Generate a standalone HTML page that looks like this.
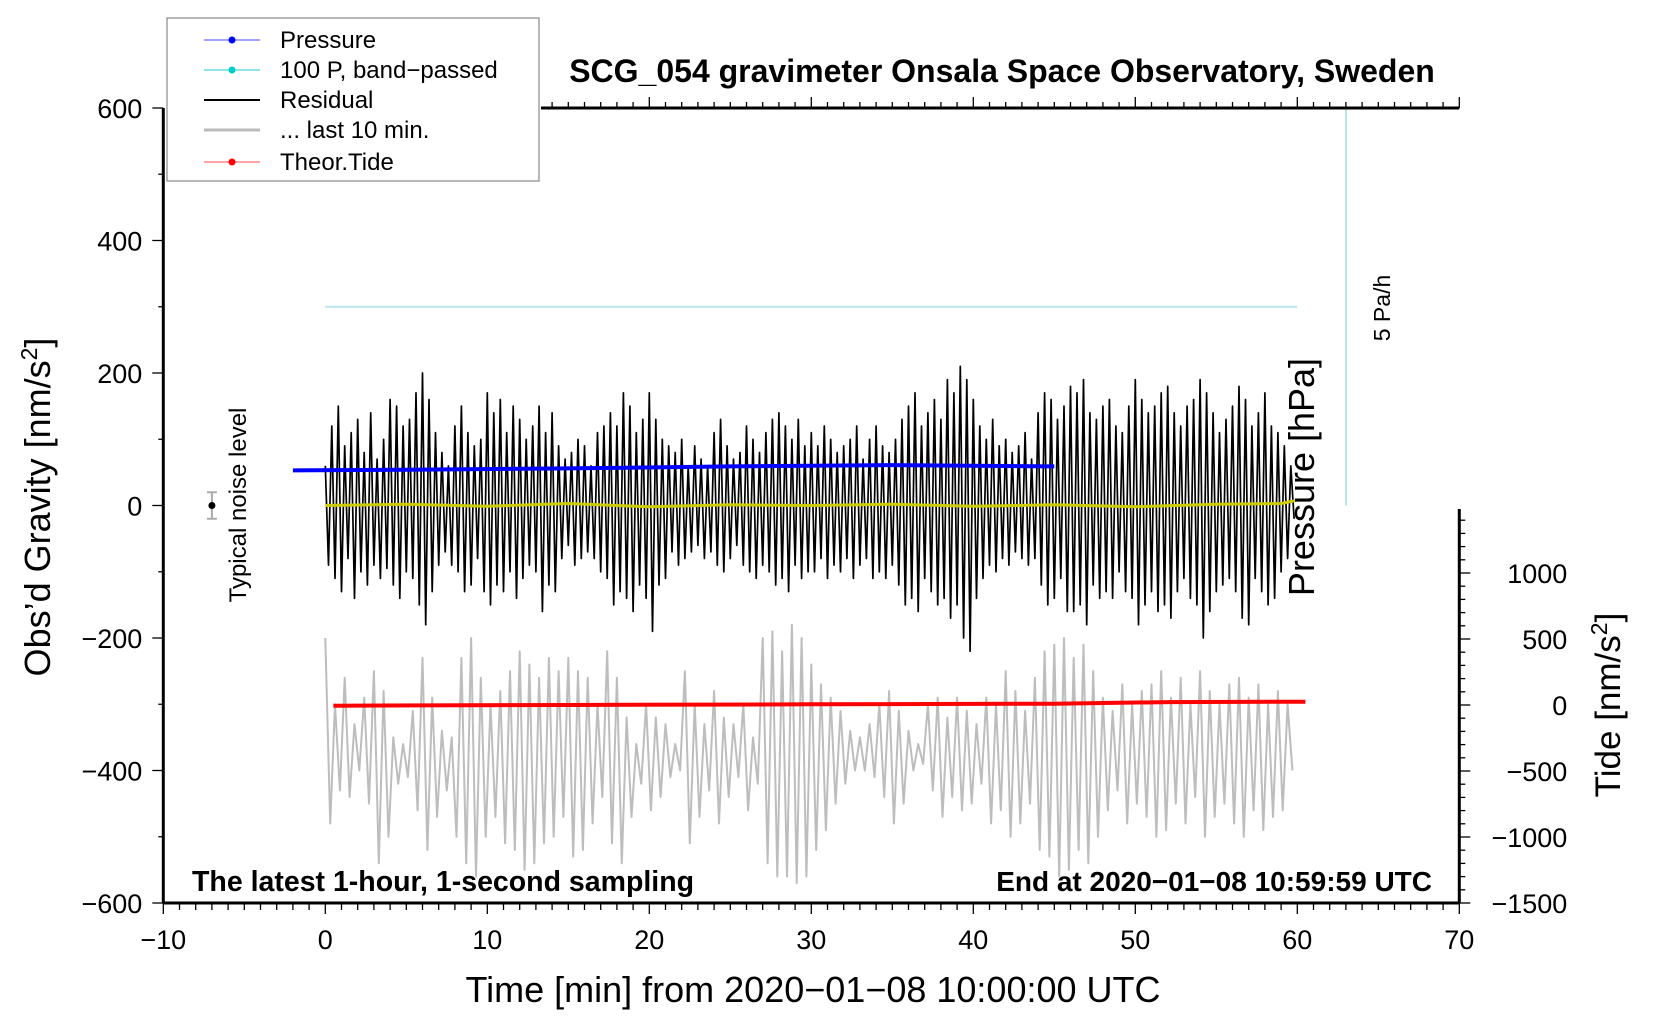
<!DOCTYPE html>
<html><head><meta charset="utf-8"><style>
body{margin:0;background:#fff}
svg{display:block;font-family:"Liberation Sans",Arial,sans-serif}
</style></head><body>
<svg id="chart" width="1660" height="1020" viewBox="0 0 1660 1020" xmlns="http://www.w3.org/2000/svg">
<rect width="1660" height="1020" fill="#fff"/>
<g id="marks"></g>
<g id="axes"></g>
<text x="1002" y="82" font-size="32" font-weight="bold" text-anchor="middle">SCG_054 gravimeter Onsala Space Observatory, Sweden</text>
<text x="192" y="891" font-size="28.5" font-weight="bold">The latest 1-hour, 1-second sampling</text>
<text x="1432" y="891" font-size="28" font-weight="bold" text-anchor="end">End at 2020−01−08 10:59:59 UTC</text>
<text x="813" y="1002" font-size="36" text-anchor="middle">Time [min] from 2020−01−08 10:00:00 UTC</text>
<text transform="translate(50,507) rotate(-90)" font-size="36" text-anchor="middle">Obs’d Gravity [nm/s<tspan font-size="23" dy="-13">2</tspan><tspan dy="13">]</tspan></text>
<text transform="translate(1620,705) rotate(-90)" font-size="35" text-anchor="middle">Tide [nm/s<tspan font-size="23" dy="-13">2</tspan><tspan dy="13">]</tspan></text>
<text transform="translate(1314,477) rotate(-90)" font-size="36" text-anchor="middle">Pressure [hPa]</text>
<text transform="translate(1390,308) rotate(-90)" font-size="23" text-anchor="middle">5 Pa/h</text>
<text transform="translate(246,505) rotate(-90)" font-size="24" text-anchor="middle">Typical noise level</text>
<g>
<rect x="167" y="18" width="372" height="163" fill="#fff" stroke="#888" stroke-width="1.2"/>
<g><line x1="204" y1="40" x2="260" y2="40" stroke="#44f" stroke-width="1"/><circle cx="232" cy="40" r="3.5" fill="#00f"/><text x="280" y="48" font-size="24">Pressure</text></g>
<g><line x1="204" y1="70" x2="260" y2="70" stroke="#2cc" stroke-width="1"/><circle cx="232" cy="70" r="3.5" fill="#0cc"/><text x="280" y="78" font-size="24">100 P, band−passed</text></g>
<g><line x1="204" y1="100" x2="260" y2="100" stroke="#000" stroke-width="2"/><text x="280" y="108" font-size="24">Residual</text></g>
<g><line x1="204" y1="130" x2="260" y2="130" stroke="#bbb" stroke-width="3"/><text x="280" y="138" font-size="24">... last 10 min.</text></g>
<g><line x1="204" y1="162" x2="260" y2="162" stroke="#f44" stroke-width="1"/><circle cx="232" cy="162" r="3.5" fill="#f00"/><text x="280" y="170" font-size="24">Theor.Tide</text></g>
</g>
</svg>
<script>
const xTicks=[-10,0,10,20,30,40,50,60,70];
const yTicks=[-600,-400,-200,0,200,400,600];
const tideTicks=[-1500,-1000,-500,0,500,1000];
const residual=[60,-90,120,-110,150,-130,90,-80,110,-140,
130,-100,80,-120,140,-90,70,-110,100,-95,
160,-120,150,-140,120,-100,130,-110,170,-150,
200,-180,160,-130,110,-90,80,-70,60,-90,
120,-100,150,-130,110,-120,90,-80,100,-130,
170,-150,140,-120,160,-130,110,-100,150,-140,
130,-110,100,-90,120,-100,150,-160,110,-120,
140,-130,90,-80,70,-60,80,-90,100,-80,
90,-70,60,-80,110,-100,120,-110,140,-150,
120,-130,170,-140,150,-160,110,-120,130,-140,
170,-190,130,-120,100,-110,90,-70,80,-90,
100,-80,60,-70,90,-60,70,-80,60,-70,
110,-90,130,-100,90,-80,70,-60,80,-90,
120,-100,100,-110,80,-90,110,-100,130,-120,
140,-110,120,-130,100,-90,130,-110,90,-100,
110,-100,90,-80,120,-110,100,-90,80,-100,
90,-80,100,-110,120,-90,70,-80,100,-110,
120,-100,90,-110,80,-90,100,-120,130,-150,
150,-140,170,-160,120,-110,140,-130,160,-150,
130,-140,190,-170,170,-150,210,-200,190,-220,
160,-140,120,-110,100,-90,130,-100,90,-80,
100,-90,80,-70,90,-80,110,-90,70,-80,
140,-120,170,-150,160,-140,130,-110,150,-160,
180,-160,170,-150,190,-180,140,-120,130,-140,
150,-130,160,-140,120,-100,110,-130,150,-140,
190,-180,160,-150,140,-130,150,-160,170,-150,
180,-170,140,-130,120,-110,150,-140,160,-150,
190,-200,170,-160,140,-130,110,-120,130,-110,
150,-130,180,-170,160,-180,120,-110,140,-130,
170,-150,120,-140,110,-100,90,-80,60,-20];
const residualStep=0.2;
const last10=[-200,-480,-300,-430,-260,-440,-330,-400,-290,-450,
-250,-540,-280,-500,-350,-420,-360,-410,-310,-460,
-230,-520,-290,-470,-340,-430,-350,-500,-230,-540,
-200,-560,-260,-500,-300,-470,-280,-510,-250,-520,
-220,-550,-240,-540,-260,-510,-230,-500,-250,-470,
-230,-530,-250,-520,-260,-480,-300,-440,-220,-510,
-260,-540,-320,-470,-360,-420,-300,-460,-320,-440,
-330,-410,-360,-400,-250,-510,-300,-470,-330,-430,
-280,-480,-320,-440,-330,-410,-300,-460,-350,-420,
-200,-540,-190,-560,-220,-560,-180,-570,-200,-560,
-240,-520,-270,-490,-290,-450,-310,-420,-340,-400,
-350,-400,-330,-410,-300,-440,-280,-480,-310,-450,
-340,-400,-360,-390,-300,-430,-290,-470,-320,-440,
-290,-460,-310,-450,-330,-420,-290,-480,-300,-460,
-250,-500,-280,-480,-310,-450,-260,-520,-220,-530,
-210,-560,-200,-550,-230,-520,-210,-540,-250,-500,
-290,-460,-310,-430,-270,-480,-300,-450,-280,-470,
-270,-500,-250,-490,-290,-450,-260,-480,-300,-440,
-250,-500,-280,-470,-300,-450,-270,-480,-260,-500,
-290,-460,-270,-490,-300,-470,-280,-460,-300,-400];
const last10Step=0.3;
const pressureT=[-2,5,15,25,35,45];
const pressureG=[53,54,56,59,61,59];
const tideT=[0.5,15,30,45,52,60.5];
const tideV=[-5,0,5,10,22,25];
const bandT=[0,10,20,30,40,50,60];
const bandG=[300,300,300,300,300,300,300];
const yellowT=[0,5,10,15,20,25,30,35,40,45,50,55,59,60];
const yellowG=[0,2,-1,3,-2,1,0,2,-1,1,-2,2,3,8];

const X=t=>163.3+(t+10)*16.2;
const Y=g=>505.5-g*0.6625;
const TY=v=>705-v*0.132;
const NS='http://www.w3.org/2000/svg';
const marks=document.getElementById('marks');
const axes=document.getElementById('axes');
function mk(tag,attrs,parent){const e=document.createElementNS(NS,tag);for(const k in attrs)e.setAttribute(k,attrs[k]);parent.appendChild(e);return e;}
function path(xs,ys,parent,stroke,w){let d='';for(let i=0;i<xs.length;i++)d+=(i?'L':'M')+xs[i].toFixed(1)+' '+ys[i].toFixed(1);return mk('path',{d:d,fill:'none',stroke:stroke,'stroke-width':w,'stroke-linejoin':'round'},parent);}

let e=path(bandT.map(X),bandG.map(Y),marks,'#b8e6ea',2);


e=mk('line',{x1:1346,y1:108,x2:1346,y2:Y(0),stroke:'#b8e6ea','stroke-width':2},marks);


e=path(last10.map((v,i)=>X(i*last10Step)),last10.map(Y),marks,'#bdbdbd',2);


e=path(residual.map((v,i)=>X(i*residualStep)),residual.map(Y),marks,'#000',1.7);


e=path(yellowT.map(X),yellowG.map(Y),marks,'#cccc00',3);


e=path(pressureT.map(X),pressureG.map(Y),marks,'#0000ff',4);


e=path(tideT.map(X),tideV.map(TY),marks,'#ff0000',4);


e=mk('g',{},marks);


mk('line',{x1:X(-7),y1:Y(20),x2:X(-7),y2:Y(-20),stroke:'#aaa','stroke-width':2},e);
mk('line',{x1:X(-7)-5,y1:Y(20),x2:X(-7)+5,y2:Y(20),stroke:'#aaa','stroke-width':2},e);
mk('line',{x1:X(-7)-5,y1:Y(-20),x2:X(-7)+5,y2:Y(-20),stroke:'#aaa','stroke-width':2},e);
mk('circle',{cx:X(-7),cy:Y(0),r:3.5,fill:'#000'},e);

const ax={stroke:'#000','stroke-width':1.3};
e=mk('line',{x1:X(-10),y1:Y(-600),x2:X(70),y2:Y(-600),stroke:'#000','stroke-width':3},axes);


e=mk('line',{x1:X(-10),y1:Y(-600),x2:X(-10),y2:Y(600),stroke:'#000','stroke-width':3},axes);


e=mk('line',{x1:541,y1:Y(600),x2:X(70),y2:Y(600),stroke:'#000','stroke-width':3},axes);


e=mk('line',{x1:X(70),y1:TY(1485),x2:X(70),y2:TY(-1500),stroke:'#000','stroke-width':3},axes);


for(let t=-10;t<=70;t++){
  const major=t%10===0;
  mk('line',Object.assign({x1:X(t),y1:Y(-600),x2:X(t),y2:Y(-600)+(major?11:7)},ax),axes);
  if(X(t)>=541) mk('line',Object.assign({x1:X(t),y1:Y(600),x2:X(t),y2:Y(600)-(major?11:6)},ax),axes);
}
xTicks.forEach(t=>{
  const l=mk('text',{x:X(t),y:Y(-600)+46,'font-size':27,'text-anchor':'middle'},axes);
  l.textContent=String(t).replace('-','\u2212');
  
  
});
for(let g=-600;g<=600;g+=100){
  const major=g%200===0;
  mk('line',Object.assign({x1:X(-10),y1:Y(g),x2:X(-10)-(major?11:5),y2:Y(g)},ax),axes);
}
yTicks.forEach(g=>{
  const l=mk('text',{x:X(-10)-21,y:Y(g)+10,'font-size':27,'text-anchor':'end'},axes);
  l.textContent=String(g).replace('-','\u2212');
  
  
});
for(let v=-1500;v<=1400;v+=100){
  const major=v%500===0;
  mk('line',Object.assign({x1:X(70),y1:TY(v),x2:X(70)+(major?11:6),y2:TY(v)},ax),axes);
}
tideTicks.forEach(v=>{
  const l=mk('text',{x:X(70)+108,y:TY(v)+10,'font-size':27,'text-anchor':'end'},axes);
  l.textContent=String(v).replace('-','\u2212');
  
  
});
</script>
</body></html>
